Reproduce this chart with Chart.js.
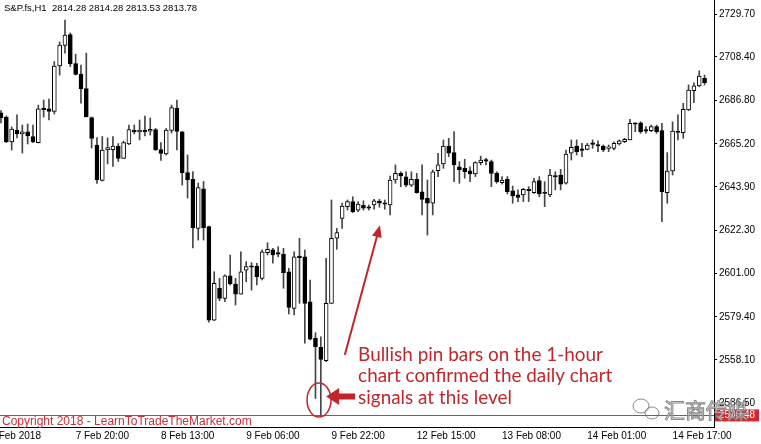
<!DOCTYPE html>
<html>
<head>
<meta charset="utf-8">
<script src="https://cdn.jsdelivr.net/npm/chart.js@4.4.1/dist/chart.umd.min.js"></script>
<style>
  html, body { margin: 0; padding: 0; background: #fff; }
</style>
</head>
<body>
<canvas id="chart" width="761" height="444"></canvas>
<script>
// S&P futures, 1 hour candles
const symbolTitle = 'S&P.fs,H1  2814.28 2814.28 2813.53 2813.78';

const opens = [
    2680.6, 2678.6, 2666.2, 2672.1, 2670.2, 2671.2, 2668.9, 2665.9, 2682.8, 2682.6,
    2681.3, 2703.9, 2714.1, 2719.5, 2705.1, 2699.9, 2692.7, 2678.3, 2664.7, 2647.1,
    2662.2, 2662.4, 2664.2, 2658.0, 2665.2, 2672.1, 2671.2, 2671.9, 2671.5, 2672.4,
    2662.4, 2660.2, 2671.9, 2683.0, 2671.2, 2651.0, 2647.6, 2623.3, 2642.9, 2624.2,
    2577.8, 2593.6, 2588.6, 2599.7, 2595.7, 2590.7, 2602.6, 2604.6, 2604.6, 2598.5,
    2611.2, 2612.6, 2611.1, 2610.6, 2601.8, 2583.6, 2609.3, 2609.2, 2586.9, 2568.7,
    2564.3, 2557.6, 2586.1, 2618.4, 2628.3, 2634.1, 2636.6, 2632.4, 2634.8, 2633.9,
    2634.9, 2636.9, 2635.8, 2634.9, 2647.3, 2650.6, 2648.9, 2644.8, 2647.6, 2641.5,
    2638.2, 2635.8, 2651.9, 2655.3, 2664.2, 2660.9, 2653.9, 2653.1, 2651.9, 2650.3,
    2655.9, 2657.2, 2656.4, 2650.6, 2646.0, 2647.6, 2642.0, 2639.9, 2639.9, 2642.7,
    2641.0, 2647.0, 2641.1, 2639.9, 2649.3, 2649.8, 2645.7, 2660.6, 2664.2, 2662.5,
    2662.5, 2665.5, 2664.7, 2664.2, 2663.0, 2663.0, 2665.2, 2666.3, 2667.2, 2675.4,
    2675.7, 2672.1, 2671.8, 2673.8, 2671.8, 2641.0, 2651.8, 2671.3, 2670.8, 2682.1,
    2691.6, 2694.0, 2697.8
];
const highs = [
    2681.8, 2679.1, 2673.6, 2679.6, 2674.6, 2675.1, 2674.6, 2684.5, 2687.0, 2687.5,
    2706.1, 2715.8, 2726.7, 2720.3, 2709.8, 2704.4, 2710.3, 2678.6, 2668.4, 2668.9,
    2668.2, 2668.9, 2665.4, 2666.6, 2674.6, 2674.6, 2677.1, 2679.1, 2678.1, 2672.9,
    2665.9, 2672.9, 2684.5, 2687.0, 2671.4, 2659.7, 2651.5, 2645.8, 2646.6, 2624.5,
    2601.8, 2598.5, 2600.2, 2610.1, 2598.5, 2611.7, 2606.8, 2606.3, 2606.0, 2612.6,
    2616.2, 2613.4, 2614.2, 2613.4, 2603.5, 2611.7, 2618.4, 2612.6, 2597.7, 2571.5,
    2569.5, 2608.5, 2637.4, 2623.3, 2635.8, 2637.4, 2639.0, 2636.6, 2637.0, 2634.9,
    2637.7, 2637.7, 2637.4, 2649.3, 2654.8, 2651.4, 2651.4, 2651.4, 2650.6, 2654.8,
    2647.3, 2652.3, 2660.6, 2667.2, 2668.0, 2671.3, 2656.4, 2657.6, 2653.9, 2656.4,
    2659.2, 2658.1, 2657.2, 2651.4, 2649.0, 2649.0, 2644.3, 2642.4, 2643.2, 2644.0,
    2648.2, 2649.0, 2646.5, 2652.6, 2651.4, 2652.6, 2662.2, 2667.2, 2667.2, 2665.5,
    2665.5, 2667.2, 2666.7, 2664.7, 2664.7, 2666.3, 2667.2, 2668.0, 2677.4, 2675.7,
    2676.2, 2673.8, 2674.6, 2674.6, 2675.4, 2660.9, 2676.2, 2679.6, 2685.4, 2694.5,
    2695.6, 2701.5, 2699.4
];
const lows = [
    2675.6, 2665.9, 2662.2, 2668.2, 2660.7, 2665.2, 2665.9, 2665.7, 2678.6, 2677.1,
    2680.1, 2699.4, 2710.3, 2703.6, 2699.4, 2685.5, 2678.6, 2663.2, 2645.6, 2646.8,
    2655.3, 2654.0, 2656.5, 2658.0, 2664.9, 2670.2, 2667.2, 2669.2, 2669.6, 2662.0,
    2657.0, 2659.7, 2670.6, 2662.2, 2644.8, 2638.4, 2613.6, 2617.5, 2617.5, 2576.8,
    2577.5, 2587.4, 2586.9, 2595.2, 2585.3, 2590.7, 2596.8, 2592.7, 2595.2, 2597.7,
    2610.1, 2606.0, 2609.2, 2593.6, 2580.8, 2580.3, 2586.1, 2566.3, 2567.9, 2538.9,
    2530.7, 2557.1, 2586.1, 2612.9, 2623.3, 2632.4, 2631.1, 2631.6, 2632.4, 2632.4,
    2632.8, 2633.8, 2632.8, 2630.0, 2645.7, 2644.0, 2644.0, 2644.0, 2640.7, 2630.0,
    2620.0, 2630.0, 2649.0, 2653.1, 2658.9, 2646.5, 2645.7, 2648.2, 2646.5, 2649.0,
    2654.8, 2654.8, 2644.0, 2645.7, 2645.3, 2640.4, 2635.8, 2636.6, 2636.6, 2636.6,
    2640.7, 2639.0, 2634.1, 2639.0, 2642.4, 2642.4, 2645.3, 2657.2, 2659.7, 2658.9,
    2662.2, 2663.0, 2661.4, 2661.4, 2661.4, 2662.2, 2664.7, 2665.9, 2667.2, 2671.3,
    2670.5, 2670.5, 2671.3, 2670.5, 2626.6, 2635.8, 2649.8, 2667.2, 2668.0, 2681.7,
    2685.7, 2693.6, 2694.5
];
const closes = [
    2678.3, 2666.2, 2672.6, 2670.2, 2671.2, 2669.2, 2666.2, 2682.6, 2682.2, 2681.3,
    2703.9, 2714.3, 2719.3, 2704.9, 2699.7, 2692.7, 2678.8, 2667.9, 2647.3, 2662.2,
    2663.4, 2664.2, 2658.0, 2665.9, 2672.4, 2671.2, 2672.1, 2671.3, 2672.5, 2662.2,
    2660.5, 2672.1, 2683.2, 2671.4, 2651.0, 2647.3, 2623.7, 2643.5, 2623.7, 2577.8,
    2596.0, 2588.6, 2599.7, 2595.7, 2590.7, 2601.8, 2604.3, 2604.0, 2599.3, 2611.7,
    2612.9, 2610.1, 2610.5, 2601.3, 2584.1, 2609.2, 2608.8, 2586.1, 2568.3, 2564.6,
    2558.3, 2586.1, 2618.4, 2621.2, 2634.4, 2636.6, 2631.6, 2635.4, 2633.3, 2633.3,
    2637.0, 2635.8, 2635.3, 2647.3, 2650.6, 2649.3, 2644.8, 2647.6, 2641.0, 2637.7,
    2635.8, 2651.4, 2654.8, 2664.2, 2660.6, 2654.8, 2652.3, 2651.4, 2650.3, 2655.9,
    2657.2, 2656.7, 2650.6, 2646.5, 2647.3, 2641.5, 2639.4, 2638.7, 2642.7, 2642.0,
    2646.5, 2640.4, 2640.6, 2649.8, 2648.8, 2645.3, 2660.2, 2663.5, 2661.4, 2662.0,
    2664.7, 2665.0, 2664.2, 2662.2, 2663.5, 2665.5, 2666.7, 2667.5, 2675.4, 2675.0,
    2671.3, 2671.6, 2673.8, 2671.3, 2641.5, 2651.8, 2671.6, 2670.9, 2682.4, 2692.0,
    2694.0, 2698.9, 2695.6
];

// axis labels
const priceTicks = [2536.50, 2558.10, 2579.40, 2601.00, 2622.30, 2643.90, 2665.20, 2686.80, 2708.40, 2729.70];
const timeLabels = ['6 Feb 2018', '7 Feb 20:00', '8 Feb 13:00', '9 Feb 06:00', '9 Feb 22:00',
    '12 Feb 15:00', '13 Feb 08:00', '14 Feb 01:00', '14 Feb 17:00'];
const timeLabelBars = [-2, 14, 30, 46, 62, 78, 94, 110, 126];

const bidPrice = 2530.48;
const noteLines = ['Bullish pin bars on the 1-hour', 'chart confirmed the daily chart', 'signals at this level'];
const copyright = 'Copyright 2018 - LearnToTradeTheMarket.com';
const watermark = '汇商传媒';

const bodies = opens.map((o, i) => ({ x: i, y: [o, closes[i]] }));
const wicks = opens.map((o, i) => ({ x: i, y: [lows[i], highs[i]] }));
const bodyColors = opens.map((o, i) => closes[i] >= o ? '#ffffff' : '#000000');

const axisFont = { family: 'Liberation Sans', size: 10 };
const red = '#c0272d';

// red bid line, notes and arrows
const overlay = {
    id: 'overlay',
    beforeDatasetsDraw(chart) {
        const { ctx, chartArea, scales } = chart;
        const yb = Math.round(scales.y.getPixelForValue(bidPrice)) + 0.5;
        ctx.save();
        ctx.strokeStyle = '#d9363b';
        ctx.lineWidth = 1;
        ctx.beginPath();
        ctx.moveTo(chartArea.left, yb);
        ctx.lineTo(chartArea.right, yb);
        ctx.stroke();
        ctx.restore();
    },
    afterDraw(chart) {
        const { ctx, chartArea, scales } = chart;
        const x = scales.x, y = scales.y;
        ctx.save();

        ctx.fillStyle = '#000';
        ctx.font = '9.5px "Liberation Sans"';
        ctx.textAlign = 'left';
        ctx.textBaseline = 'middle';
        ctx.fillText(symbolTitle, 4, 8);

        ctx.fillStyle = '#c8303a';
        ctx.font = '12px "Liberation Sans"';
        ctx.textBaseline = 'alphabetic';
        ctx.fillText(copyright, 2, 425);

        // price box on the axis
        const yb = y.getPixelForValue(bidPrice);
        ctx.fillStyle = '#d8262c';
        ctx.fillRect(chartArea.right + 1, yb - 6, 44, 12);
        ctx.fillStyle = '#fff';
        ctx.font = '10px "Liberation Sans"';
        ctx.textBaseline = 'middle';
        ctx.fillText(bidPrice.toFixed(2), chartArea.right + 5, yb);

        // circle round the pin bar
        ctx.strokeStyle = red;
        ctx.lineWidth = 1.5;
        ctx.beginPath();
        ctx.ellipse(x.getPixelForValue(59.66), y.getPixelForValue(2538.1), 12, 17, 0, 0, Math.PI * 2);
        ctx.stroke();

        // thick arrow pointing at it
        const tx = x.getPixelForValue(61), ty = y.getPixelForValue(2539.9);
        ctx.fillStyle = red;
        ctx.beginPath();
        ctx.moveTo(tx, ty);
        ctx.lineTo(tx + 13, ty - 8.5);
        ctx.lineTo(tx + 13, ty - 3);
        ctx.lineTo(tx + 29, ty - 3);
        ctx.lineTo(tx + 29, ty + 3);
        ctx.lineTo(tx + 13, ty + 3);
        ctx.lineTo(tx + 13, ty + 8.5);
        ctx.closePath();
        ctx.fill();

        // thin arrow up to the consolidation
        const x0 = x.getPixelForValue(64.5), y0 = y.getPixelForValue(2560.5);
        const x1 = x.getPixelForValue(71.1), y1 = y.getPixelForValue(2624.9);
        const ang = Math.atan2(y1 - y0, x1 - x0);
        ctx.strokeStyle = red;
        ctx.lineWidth = 2;
        ctx.beginPath();
        ctx.moveTo(x0, y0);
        ctx.lineTo(x1 - 8 * Math.cos(ang), y1 - 8 * Math.sin(ang));
        ctx.stroke();
        ctx.beginPath();
        ctx.moveTo(x1, y1);
        ctx.lineTo(x1 - 12 * Math.cos(ang) + 5 * Math.sin(ang), y1 - 12 * Math.sin(ang) - 5 * Math.cos(ang));
        ctx.lineTo(x1 - 12 * Math.cos(ang) - 5 * Math.sin(ang), y1 - 12 * Math.sin(ang) + 5 * Math.cos(ang));
        ctx.closePath();
        ctx.fill();

        // note text, sized so the first line is as wide as in the screenshot
        ctx.font = '17px Lato';
        const size = 17 * 245 / ctx.measureText(noteLines[0]).width;
        ctx.font = size.toFixed(1) + 'px Lato';
        ctx.fillStyle = red;
        ctx.textBaseline = 'middle';
        const nx = x.getPixelForValue(67);
        const ny = y.getPixelForValue(2560.5);
        noteLines.forEach((line, k) => ctx.fillText(line, nx, ny + k * 21.4));

        // watermark
        ctx.font = '21px "Noto Sans CJK SC"';
        ctx.fillStyle = 'rgba(235,235,235,0.8)';
        ctx.strokeStyle = 'rgba(120,120,120,0.85)';
        ctx.lineWidth = 1;
        ctx.fillText(watermark, 664, 410);
        ctx.strokeText(watermark, 664, 410);
        ctx.beginPath();
        ctx.ellipse(641, 406, 8, 7, 0, 0, Math.PI * 2);
        ctx.stroke();
        ctx.beginPath();
        ctx.ellipse(652, 413, 7, 6, 0, 0, Math.PI * 2);
        ctx.stroke();

        ctx.restore();
    }
};

new Chart(document.getElementById('chart'), {
    type: 'bar',
    data: {
        datasets: [{
            data: bodies,
            backgroundColor: bodyColors,
            borderColor: '#000',
            borderWidth: 1,
            borderSkipped: false,
            barThickness: 4,
            minBarLength: 1.5,
            grouped: false,
            order: 0
        }, {
            data: wicks,
            backgroundColor: '#454545',
            borderWidth: 0,
            barThickness: 1,
            grouped: false,
            order: 1
        }]
    },
    options: {
        responsive: false,
        animation: false,
        events: [],
        layout: { padding: 0 },
        plugins: {
            legend: { display: false },
            tooltip: { enabled: false }
        },
        scales: {
            x: {
                type: 'linear',
                min: -0.19,
                max: 133.77,
                offset: false,
                bounds: 'data',
                grid: { display: false, drawTicks: false },
                border: { display: true, color: '#000', width: 1 },
                afterBuildTicks: s => { s.ticks = timeLabelBars.map(v => ({ value: v })); },
                ticks: {
                    autoSkip: false,
                    maxRotation: 0,
                    minRotation: 0,
                    align: 'start',
                    padding: 3,
                    color: '#000',
                    font: axisFont,
                    callback: (v, i) => timeLabels[i]
                },
                afterFit: s => { s.height = 17; s.paddingLeft = 0; s.paddingRight = 0; }
            },
            y: {
                position: 'right',
                min: 2524.73,
                max: 2736.65,
                beginAtZero: false,
                bounds: 'data',
                grid: { display: true, drawOnChartArea: false, drawTicks: true, tickLength: 3, color: '#000' },
                border: { display: true, color: '#000', width: 1 },
                afterBuildTicks: s => { s.ticks = priceTicks.map(v => ({ value: v })); },
                ticks: {
                    padding: 2,
                    color: '#000',
                    font: axisFont,
                    callback: v => Number(v).toFixed(2)
                },
                afterFit: s => { s.width = 47; s.paddingTop = 0; s.paddingBottom = 0; }
            }
        }
    },
    plugins: [overlay]
});
</script>
</body>
</html>
